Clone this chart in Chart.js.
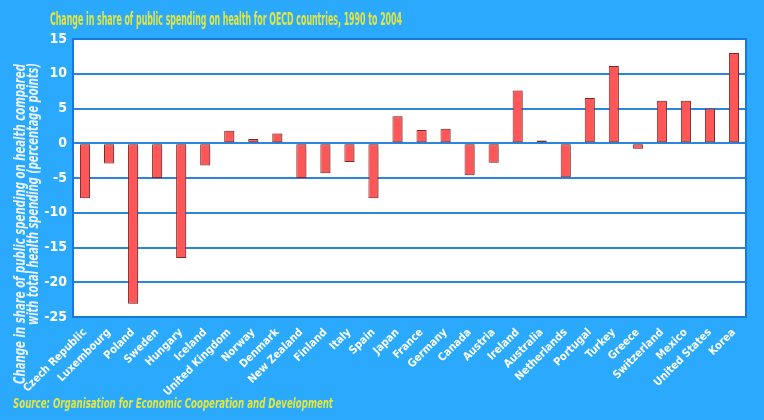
<!DOCTYPE html>
<html>
<head>
<meta charset="utf-8">
<script src="https://cdn.jsdelivr.net/npm/chart.js@4.4.1/dist/chart.umd.min.js"></script>
<style>
  html, body { margin: 0; padding: 0; background: #2aa9fd; }
  canvas { display: block; }
</style>
</head>
<body>
<canvas id="chart" width="764" height="420"></canvas>
<script>
const countries = ['Czech Republic', 'Luxembourg', 'Poland', 'Sweden', 'Hungary', 'Iceland',
    'United Kingdom', 'Norway', 'Denmark', 'New Zealand', 'Finland', 'Italy', 'Spain', 'Japan',
    'France', 'Germany', 'Canada', 'Austria', 'Ireland', 'Australia', 'Netherlands', 'Portugal',
    'Turkey', 'Greece', 'Switzerland', 'Mexico', 'United States', 'Korea'];
const changes = [-7.9, -2.9, -23.1, -5.0, -16.5, -3.2, 1.8, 0.6, 1.4, -5.0, -4.3, -2.7, -7.9, 3.9,
    1.9, 2.1, -4.6, -2.8, 7.6, 0.4, -4.9, 6.5, 11.1, -0.8, 6.1, 6.1, 5.0, 13.0];
const yTicks = [15, 10, 5, 0, -5, -10, -15, -20, -25];

const titleText = 'Change in share of public spending on health for OECD countries, 1990 to 2004';
const yTitleLines = ['Change in share of public spending on health compared',
    'with total health spending (percentage points)'];
const sourceText = 'Source: Organisation for Economic Cooperation and Development';

const FONT = '"Liberation Sans Narrow", "DejaVu Sans Condensed", sans-serif';

// draw text squeezed to a given width (the original uses a condensed face)
function squeezeText(ctx, text, x, y, width) {
    const w = ctx.measureText(text).width;
    ctx.save();
    ctx.translate(x, y);
    ctx.scale(width / w, 1);
    ctx.fillText(text, 0, 0);
    ctx.restore();
}

const decorations = {
    id: 'decorations',
    beforeDraw(chart) {
        const { ctx, chartArea: a } = chart;
        ctx.save();
        ctx.fillStyle = '#ffffff';
        ctx.fillRect(a.left, a.top, a.right - a.left, a.bottom - a.top);
        ctx.restore();
    },
    beforeDatasetsDraw(chart) {
        const ctx = chart.ctx;
        ctx.save();
        ctx.shadowColor = 'rgba(90, 60, 60, 0.35)';
        ctx.shadowOffsetX = 2;
        ctx.shadowOffsetY = 0;
        ctx.shadowBlur = 1;
    },
    afterDatasetsDraw(chart) {
        chart.ctx.restore();
    },
    afterDraw(chart) {
        const { ctx, chartArea: a } = chart;
        ctx.save();
        ctx.fillStyle = '#e4e640';
        ctx.textBaseline = 'middle';
        ctx.font = 'bold 18px ' + FONT;
        squeezeText(ctx, titleText, 50, 20, 352);
        ctx.font = 'italic bold 14px ' + FONT;
        squeezeText(ctx, sourceText, 13, 404, 320);

        // y axis title, two lines ending at the top
        ctx.fillStyle = '#e8f3ff';
        ctx.font = 'italic bold 16px ' + FONT;
        ctx.translate(0, 32);
        ctx.rotate(-Math.PI / 2);
        squeezeText(ctx, yTitleLines[0], -352, 21, 320);
        squeezeText(ctx, yTitleLines[1], -293, 34, 262);
        ctx.restore();

        ctx.save();
        ctx.strokeStyle = '#1a78d8';
        ctx.lineWidth = 2;
        ctx.strokeRect(a.left, a.top, a.right - a.left, a.bottom - a.top);
        ctx.restore();
    }
};

new Chart(document.getElementById('chart'), {
    type: 'bar',
    data: {
        labels: countries,
        datasets: [{
            data: changes,
            backgroundColor: '#ff5757',
            borderColor: '#7c2b2b',
            borderWidth: 1,
            borderSkipped: false,
            barPercentage: 0.42,
            categoryPercentage: 1.0
        }]
    },
    options: {
        responsive: false,
        animation: false,
        layout: { padding: { top: 39, right: 18, left: 0, bottom: 0 } },
        plugins: {
            legend: { display: false },
            tooltip: { enabled: false }
        },
        scales: {
            x: {
                grid: { display: false },
                border: { display: false },
                afterFit(scale) { scale.height = 103; },
                ticks: {
                    color: '#ffffff',
                    font: { family: FONT, size: 11, weight: 'bold' },
                    minRotation: 45,
                    maxRotation: 45,
                    padding: 1,
                    autoSkip: false
                }
            },
            y: {
                min: -25,
                max: 15,
                afterFit(scale) { scale.width = 73; },
                afterBuildTicks(scale) { scale.ticks = yTicks.map(v => ({ value: v })); },
                grid: { color: '#2a85e0', lineWidth: 2, drawTicks: false },
                border: { display: false },
                ticks: {
                    color: '#ffffff',
                    font: { family: FONT, size: 14, weight: 'bold' },
                    padding: 6
                }
            }
        }
    },
    plugins: [decorations]
});
</script>
</body>
</html>
